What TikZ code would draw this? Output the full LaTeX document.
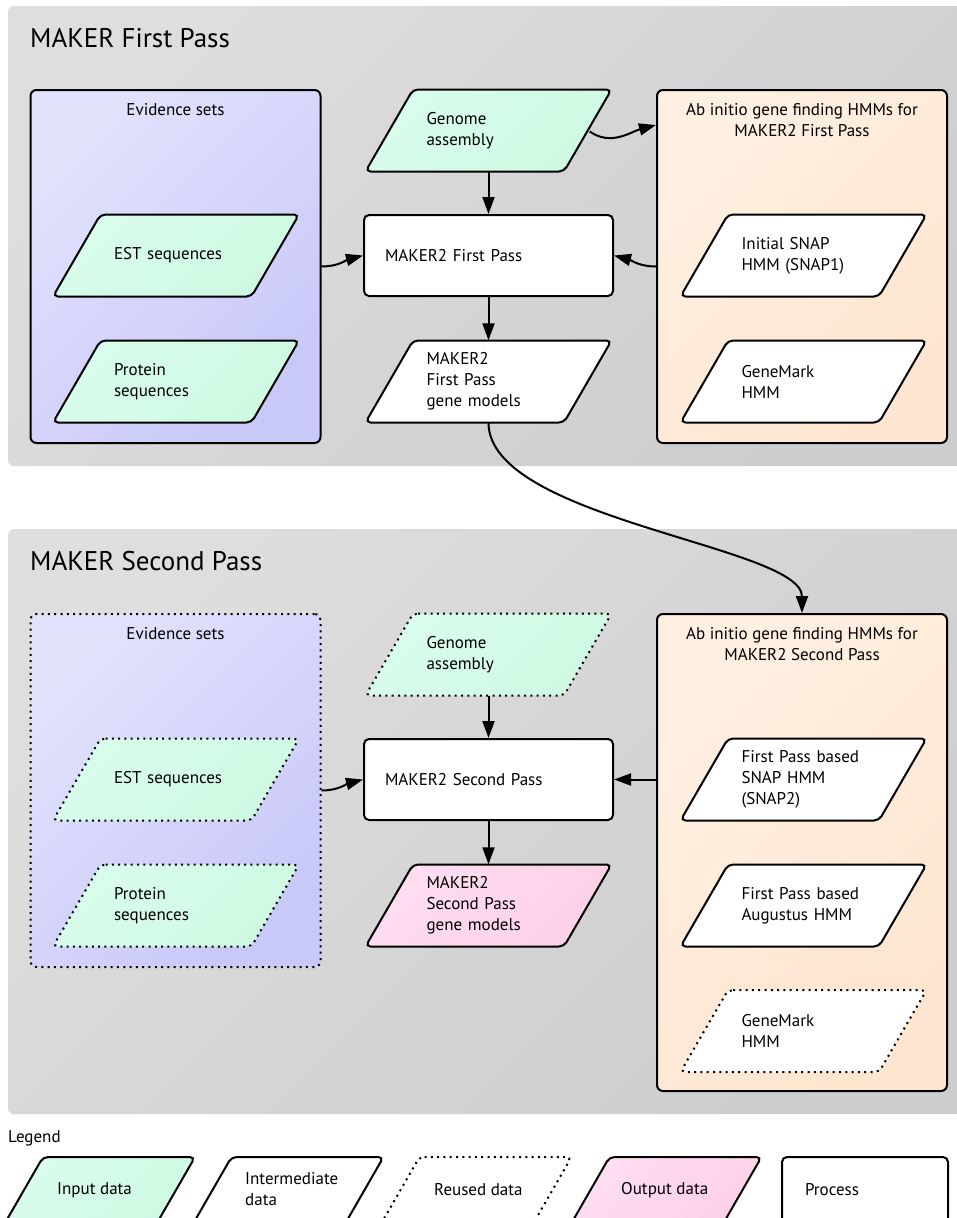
\documentclass[tikz,border=0pt]{standalone}
\usepackage{fontspec}
\setmainfont{PT Sans}
\usetikzlibrary{arrows.meta,calc}

\definecolor{panelA}{HTML}{DEDEDE}
\definecolor{panelB}{HTML}{CDCDCD}
\definecolor{evA}{HTML}{E2E2FD}
\definecolor{evB}{HTML}{C8C8F9}
\definecolor{abA}{HTML}{FFF0E2}
\definecolor{abB}{HTML}{FEE5CF}
\definecolor{inA}{HTML}{D9FDEC}
\definecolor{inB}{HTML}{CEF9E2}
\definecolor{outA}{HTML}{FFDEF1}
\definecolor{outB}{HTML}{FDD0E8}

\newcommand\para[5]{%
  \path[#1, shift={(#3,#4)}] (-75.5,-41) -- (123,-41) -- (75.5,41) -- (-123,41) -- cycle;
  \node[ptext] (#2) at (#3,#4) {#5};}
\newcommand\legpara[3]{%
  \path[#1, shift={(#2,#3)}] (-57,-33) -- (95,-33) -- (57,33) -- (-95,33) -- cycle;}

\tikzset{
  bodyfont/.style={font=\fontsize{17}{21}\selectfont},
  panel/.style={rounded corners=6pt, top color=panelA, bottom color=panelB, shading angle=45},
  titletext/.style={font=\fontsize{27}{32}\selectfont, inner sep=0pt},
  reused/.style={dash pattern=on 2pt off 4.3pt},
  bigbox/.style={rectangle, draw, line width=2pt, rounded corners=6pt, inner sep=0pt, minimum width=290pt},
  evbox/.style={bigbox, top color=evA, bottom color=evB, shading angle=45, minimum height=353pt},
  abbox/.style={bigbox, top color=abA, bottom color=abB, shading angle=45},
  head/.style={bodyfont, align=center, inner sep=0pt},
  ptext/.style={rectangle, bodyfont, inner sep=0pt, minimum width=246pt, minimum height=82pt, text width=124pt, align=left},
  shp/.style={draw, line width=2pt, rounded corners=5pt},
  inpara/.style={shp, top color=inA, bottom color=inB, shading angle=45},
  midpara/.style={shp, fill=white},
  outpara/.style={shp, top color=outA, bottom color=outB, shading angle=45},
  procbox/.style={rectangle, shp, fill=white, bodyfont, inner sep=0pt, minimum width=249pt, minimum height=81pt, text width=207pt, align=left},
  ltext/.style={bodyfont, inner sep=0pt, anchor=west, align=left},
  arr/.style={-{Triangle[length=17pt,width=12pt]}, line width=2pt},
}

\begin{document}
\begin{tikzpicture}[x=1pt,y=-1pt]
\useasboundingbox (0,0) rectangle (957,1218);
\clip (0,0) rectangle (957,1218);

% ---------------- First pass ----------------
\path[panel] (8,6) rectangle (980,466);
\node[titletext, anchor=base west] (t1) at (30,47) {MAKER First Pass};

\node[evbox] (ev1) at (175.5,266.5) {};
\node[head] (ev1h) at ($(ev1.north)+(0,21)$) {Evidence sets};
\para{inpara}{est1}{176}{255.5}{EST sequences}
\para{inpara}{prot1}{176}{381.5}{Protein\\sequences}

\para{inpara}{ga1}{488.5}{130.5}{Genome\\assembly}
\node[procbox] (r1) at (488.5,255.5) {MAKER2 First Pass};
\para{midpara}{gm1}{488.5}{381.5}{MAKER2\\First Pass\\gene models}

\node[abbox, minimum height=353pt] (ab1) at (802,266.5) {};
\node[head] (ab1h) at ($(ab1.north)+(0,31.5)$) {Ab initio gene finding HMMs for\\MAKER2 First Pass};
\para{midpara}{snap1}{803.5}{255.5}{Initial SNAP\\HMM (SNAP1)}
\para{midpara}{gmk1}{803.5}{381.5}{GeneMark\\HMM}

\draw[arr] (ga1) -- (r1);
\draw[arr] (r1) -- (gm1);
\draw[arr] (ev1.east) to[out=0,in=195] (r1.west);
\draw[arr] (ab1.west) to[out=180,in=-15] (r1.east);
\coordinate (gaR) at ($(ga1.east)+(-22,1)$);
\coordinate (abT) at ($(ab1.north west)+(0,36)$);
\draw[arr] (gaR) to[out=-35,in=195] (abT);

% ---------------- Second pass ----------------
\path[panel] (8,529) rectangle (980,1114);
\node[titletext, anchor=base west] (t2) at (30,570) {MAKER Second Pass};

\node[evbox, reused] (ev2) at (175.5,790.5) {};
\node[head] (ev2h) at ($(ev2.north)+(0,21)$) {Evidence sets};
\para{inpara, reused}{est2}{176}{779.5}{EST sequences}
\para{inpara, reused}{prot2}{176}{905.5}{Protein\\sequences}

\para{inpara, reused}{ga2}{488.5}{654.5}{Genome\\assembly}
\node[procbox] (r2) at (488.5,779.5) {MAKER2 Second Pass};
\para{outpara}{out2}{488.5}{905.5}{MAKER2\\Second Pass\\gene models}

\node[abbox, minimum height=477pt] (ab2) at (802,852.5) {};
\node[head] (ab2h) at ($(ab2.north)+(0,31.5)$) {Ab initio gene finding HMMs for\\MAKER2 Second Pass};
\para{midpara}{snap2}{803.5}{779.5}{First Pass based\\SNAP HMM\\(SNAP2)}
\para{midpara}{aug2}{803.5}{905.5}{First Pass based\\Augustus HMM}
\para{midpara, reused}{gmk2}{803.5}{1031}{GeneMark\\HMM}

\draw[arr] (ga2) -- (r2);
\draw[arr] (r2) -- (out2);
\draw[arr] (ev2.east) to[out=0,in=195] (r2.west);
\draw[arr] (r2.east -| ab2.west) -- (r2.east);

\draw[arr] (gm1.south) .. controls +(0,97) and +(0,-67) .. (ab2.north);

% ---------------- Legend ----------------
\node[ltext, anchor=base west] (leg) at (8,1142) {Legend};
\legpara{inpara}{100}{1190}
\node[ltext] (lin) at (57,1190) {Input data};
\legpara{midpara}{288.5}{1190}
\node[ltext] (lmid) at (245,1189) {Intermediate\\data};
\legpara{shp, reused}{476.5}{1190}
\node[ltext] (lre) at (434,1190) {Reused data};
\legpara{outpara}{666.5}{1190}
\node[ltext] (lout) at (621,1190) {Output data};
\node[procbox, minimum width=166pt, minimum height=66pt, text width=120pt] (lproc) at (865,1190) {Process};
\end{tikzpicture}
\end{document}
